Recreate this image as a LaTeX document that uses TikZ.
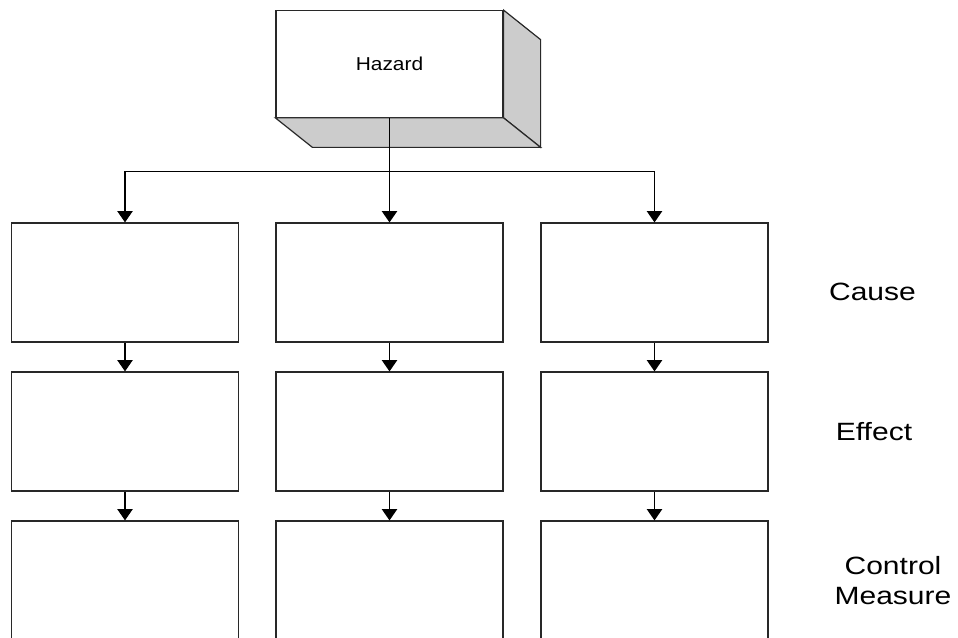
\documentclass[tikz,border=0pt]{standalone}
\usepackage{fontspec}
\usepackage{graphicx}
\setmainfont{Liberation Sans}
\usetikzlibrary{arrows.meta,calc}
\definecolor{facegray}{RGB}{204,204,204}
\definecolor{edge}{RGB}{40,40,40}
\begin{document}
\begin{tikzpicture}[x=0.75pt,y=-0.75pt,
  box/.style={draw=edge,line width=0.9pt,fill=white,inner sep=0pt,
    minimum width=170.25pt,minimum height=89.25pt},
  link/.style={draw=black,line width=0.9pt},
  arr/.style={link,-{Triangle[width=11.5pt,length=8.5pt]}},
  rowlabel/.style={font=\fontsize{18.75}{22.5}\selectfont,align=center,inner sep=0pt}]
\useasboundingbox (0,0) rectangle (958,637);
\clip (0,0) rectangle (958,637);
\fill[white] (0,0) rectangle (958,637);

% hazard block: front face plus shaded right and bottom faces
\node[draw=edge,line width=0.9pt,fill=white,inner sep=0pt,
  minimum width=170.25pt,minimum height=79.9pt] (haz) at (389.5,64) {};
\filldraw[draw=edge,line width=0.9pt,fill=facegray]
  (haz.north east) -- ($(haz.north east)+(37,29.5)$) -- ($(haz.south east)+(37,29.5)$) -- (haz.south east) -- cycle;
\filldraw[draw=edge,line width=0.9pt,fill=facegray]
  (haz.south west) -- ($(haz.south west)+(37,29.5)$) -- ($(haz.south east)+(37,29.5)$) -- (haz.south east) -- cycle;
\node[font=\fontsize{14}{16}\selectfont] at (haz.center) {\scalebox{1.12}[1]{Hazard}};

% three columns of cause / effect / control measure boxes
\foreach \i/\x in {1/125,2/389.5,3/654.5}{
  \node[box] (c\i) at (\x,282.5) {};
  \node[box] (e\i) at (\x,431.5) {};
  \node[box] (m\i) at (\x,580.5) {};
}

% connectors
\coordinate (split) at ($(haz.south)+(0,54)$);
\draw[link] (haz.south) -- (split);
\draw[arr] (split) -| (c1.north);
\draw[arr] (split) -| (c3.north);
\draw[arr] (haz.south) -- (c2.north);
\foreach \i in {1,2,3}{
  \draw[arr] (c\i.south) -- (e\i.north);
  \draw[arr] (e\i.south) -- (m\i.north);
}

% row labels
\node[rowlabel] (lcause) at (872.5,292) {\scalebox{1.2}[1]{Cause}};
\node[rowlabel] (leffect) at (874,431.5) {\scalebox{1.2}[1]{Effect}};
\node[rowlabel] (lmeasure) at (893,581) {\scalebox{1.2}[1]{Control}\\\scalebox{1.2}[1]{Measure}};
\end{tikzpicture}
\end{document}
